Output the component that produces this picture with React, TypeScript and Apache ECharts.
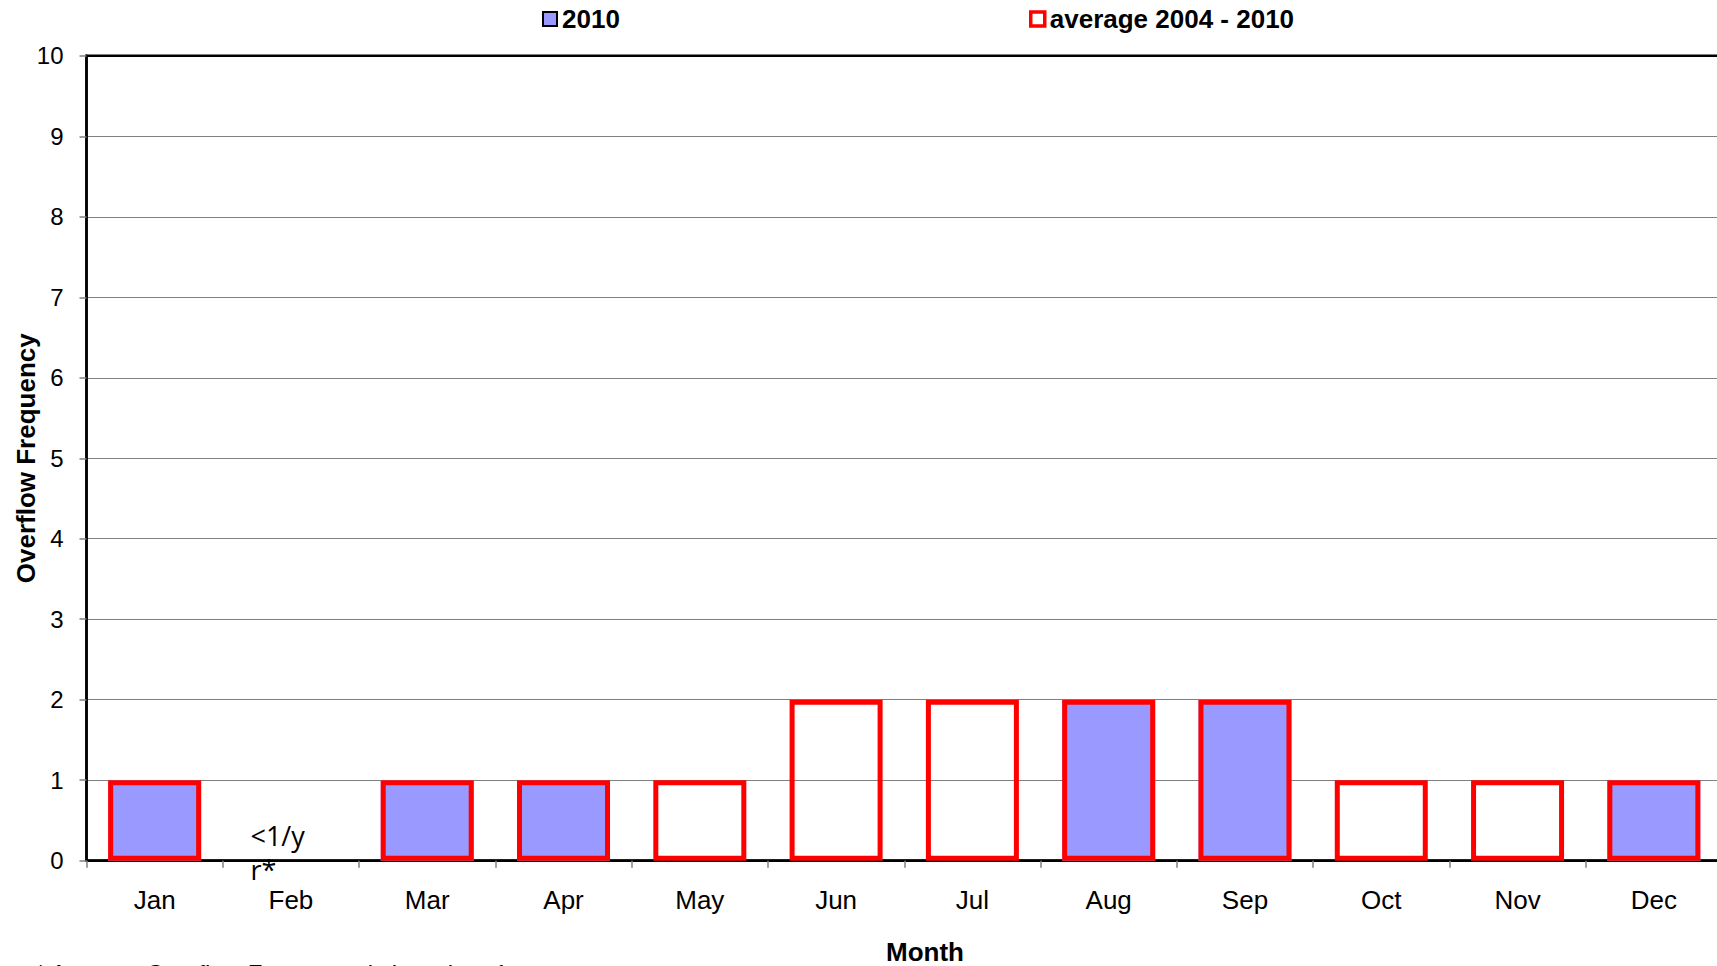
import React, { useEffect, useRef } from "react";
import * as echarts from "echarts";

const months = ["Jan", "Feb", "Mar", "Apr", "May", "Jun", "Jul", "Aug", "Sep", "Oct", "Nov", "Dec"];
const values2010 = [1, 0, 1, 1, 0, 0, 0, 2, 2, 0, 0, 1];
const valuesAverage = [1, 0, 1, 1, 1, 2, 2, 2, 2, 1, 1, 1];
const averageNotes = ["", "<1/y\nr*", "", "", "", "", "", "", "", "", "", ""];
const yTicks = [0, 1, 2, 3, 4, 5, 6, 7, 8, 9, 10];

const SANS = "'Liberation Sans', Arial, sans-serif";

export default function App() {
  const ref = useRef<HTMLDivElement>(null);
  useEffect(() => {
    if (!ref.current) return;
    const chart = echarts.init(ref.current, null, { renderer: "svg" });
    const avgData = valuesAverage.map((v, i) => {
      const note = averageNotes[i];
      if (v === 0) {
        return {
          value: v,
          itemStyle: { borderWidth: 0, borderColor: "rgba(0,0,0,0)" },
          label: note
            ? {
                show: true,
                formatter: note,
                position: [6, -42],
                align: "left",
                verticalAlign: "top",
                fontFamily: "'Open Sans', sans-serif",
                fontSize: 27,
                lineHeight: 34,
                color: "#000",
              }
            : { show: false },
        };
      }
      return { value: v };
    });
    chart.setOption({
      animation: false,
      backgroundColor: "#fff",
      grid: {
        left: 86.5,
        top: 55.8,
        bottom: 105.3,
        right: -5,
        outerBoundsMode: "none",
        containLabel: false,
        show: true,
        borderColor: "#000",
        borderWidth: 2.5,
        backgroundColor: "rgba(0,0,0,0)",
      },
      legend: [
        {
          left: 537,
          top: 1,
          itemWidth: 14,
          itemHeight: 14,
          itemGap: 6,
          icon: "rect",
          textStyle: { fontFamily: SANS, fontWeight: "bold", fontSize: 26, color: "#000" },
          data: [{ name: "2010", itemStyle: { color: "#9999FF", borderColor: "#000", borderWidth: 2 } }],
          selectedMode: false,
        },
        {
          left: 1024,
          top: 1,
          itemWidth: 14,
          itemHeight: 14,
          icon: "rect",
          textStyle: { fontFamily: SANS, fontWeight: "bold", fontSize: 26, color: "#000" },
          data: [
            {
              name: "average 2004 - 2010",
              itemStyle: { color: "#fff", borderColor: "#FF0000", borderWidth: 3.5 },
            },
          ],
          selectedMode: false,
        },
      ],
      xAxis: {
        type: "category",
        data: months,
        axisLine: { show: true, lineStyle: { color: "#000", width: 2.5 } },
        axisTick: { show: true, length: 7, lineStyle: { color: "#808080", width: 1.5 } },
        axisLabel: { fontFamily: SANS, fontSize: 26, color: "#000", margin: 26 },
        splitLine: { show: false },
      },
      yAxis: {
        type: "value",
        min: 0,
        max: 10,
        interval: 1,
        name: "Overflow Frequency",
        nameLocation: "middle",
        nameGap: 48,
        nameMoveOverlap: false,
        nameTextStyle: { fontFamily: SANS, fontWeight: "bold", fontSize: 26, color: "#000" },
        axisLine: { show: true, lineStyle: { color: "#000", width: 2.5 } },
        axisTick: { show: true, length: 7, lineStyle: { color: "#808080", width: 1.5 } },
        axisLabel: {
          fontFamily: SANS,
          fontSize: 24,
          color: "#000",
          margin: 23,
          formatter: (v: number) => (yTicks.includes(v) ? String(v) : ""),
        },
        splitLine: { show: true, lineStyle: { color: "#000", width: 1, type: [1, 1] } },
      },
      series: [
        {
          name: "2010",
          type: "bar",
          data: values2010,
          barWidth: 93,
          itemStyle: { color: "#9999FF" },
          z: 2,
        },
        {
          name: "average 2004 - 2010",
          type: "bar",
          data: avgData,
          barWidth: 93,
          barGap: "-100%",
          itemStyle: { color: "rgba(0,0,0,0)", borderColor: "#FF0000", borderWidth: 5 },
          z: 3,
        },
      ],
      graphic: [
        {
          type: "text",
          left: 886,
          top: 939,
          style: { text: "Month", fontFamily: SANS, fontWeight: "bold", fontSize: 26, fill: "#000" },
        },
        {
          type: "text",
          left: 36,
          top: 961,
          style: {
            text: "* Average Overflow Frequency is less than 1 per year",
            fontFamily: SANS,
            fontSize: 24,
            fill: "#000",
          },
        },
      ],
    });
    return () => chart.dispose();
  }, []);
  return (
    <div
      ref={ref}
      style={{ position: "fixed", left: 0, top: 0, width: 1717, height: 966, overflow: "hidden" }}
    />
  );
}
